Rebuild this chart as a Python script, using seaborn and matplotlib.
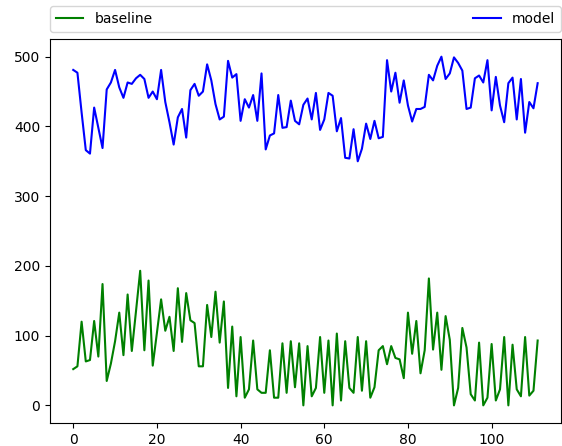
import numpy as np
import pandas as pd
import seaborn as sns
import matplotlib
matplotlib.use("Agg")
import matplotlib.pyplot as plt

steps = list(range(112))

baseline = [
    52, 56, 120, 63, 65, 121, 70, 174, 35, 60,
    92, 133, 72, 159, 78, 135, 193, 79, 179, 57,
    104, 152, 107, 127, 78, 168, 91, 161, 122, 118,
    56, 56, 144, 98, 163, 90, 149, 25, 113, 13,
    98, 11, 23, 93, 23, 18, 18, 79, 11, 11,
    89, 18, 92, 26, 89, 0, 85, 13, 25, 98,
    18, 93, 0, 103, 7, 92, 25, 18, 98, 21,
    92, 11, 26, 79, 85, 59, 85, 68, 66, 39,
    133, 74, 121, 46, 79, 182, 80, 133, 51, 128,
    94, 0, 25, 111, 83, 16, 7, 90, 0, 11,
    88, 7, 23, 98, 0, 87, 23, 13, 98, 14,
    21, 93,
]

model = [
    481, 477, 420, 366, 361, 427, 398, 369, 453, 463,
    481, 456, 441, 463, 461, 469, 474, 468, 441, 450,
    439, 481, 435, 406, 374, 413, 425, 384, 452, 461,
    444, 450, 489, 466, 432, 410, 414, 494, 470, 475,
    408, 439, 427, 445, 408, 476, 367, 387, 390, 445,
    398, 399, 437, 408, 403, 431, 440, 410, 448, 395,
    410, 448, 444, 393, 412, 355, 354, 396, 350, 368,
    404, 382, 408, 383, 385, 495, 450, 477, 434, 466,
    430, 407, 425, 425, 428, 474, 466, 487, 500, 468,
    476, 499, 491, 480, 425, 427, 469, 473, 463, 495,
    423, 471, 430, 406, 462, 470, 410, 468, 391, 435,
    426, 462,
]

series_names = ["baseline", "model"]
series_colors = {"baseline": "green", "model": "blue"}

df = pd.concat([
    pd.DataFrame({"step": steps, "value": baseline, "series": "baseline"}),
    pd.DataFrame({"step": steps, "value": model, "series": "model"}),
], ignore_index=True)

fig = plt.figure(figsize=(5.62, 4.46), dpi=100)
ax = fig.add_axes([0.089, 0.052, 0.909, 0.860])

sns.lineplot(data=df, x="step", y="value", hue="series", hue_order=series_names,
             palette=series_colors, ax=ax, linewidth=1.5)

ax.set_xlabel("")
ax.set_ylabel("")
ax.set_xticks([0, 20, 40, 60, 80, 100])
ax.set_yticks([0, 100, 200, 300, 400, 500])

ax.legend(bbox_to_anchor=(0., 1.02, 1., .102), loc="lower left", ncol=2,
          mode="expand", borderaxespad=0.)

fig.savefig("out.png", dpi=100)
